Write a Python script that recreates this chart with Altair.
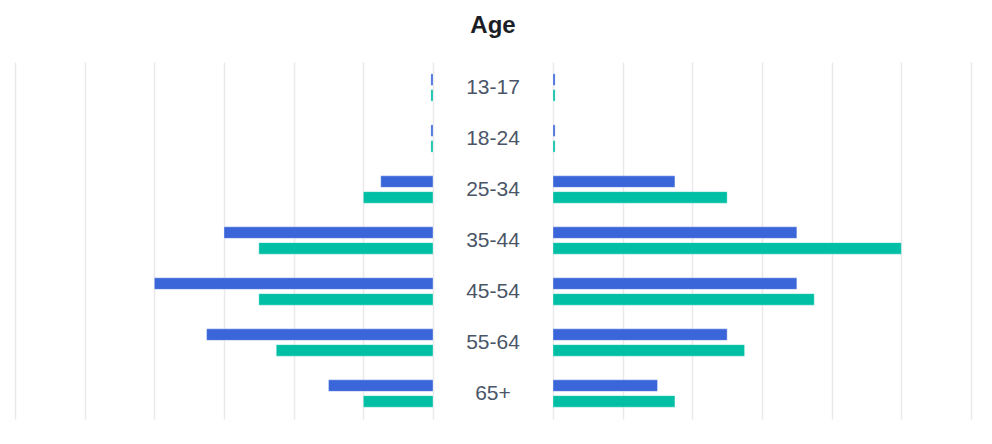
import altair as alt
import pandas as pd

ages = ["13-17", "18-24", "25-34", "35-44", "45-54", "55-64", "65+"]
series = ["Blue", "Green"]
left_blue = [0.12, 0.12, 3, 12, 16, 13, 6]
left_green = [0.12, 0.12, 4, 10, 10, 9, 4]
right_blue = [0.12, 0.12, 7, 14, 14, 10, 6]
right_green = [0.12, 0.12, 10, 20, 15, 11, 7]
grid_vals = [0, 4, 8, 12, 16, 20, 24]

BLUE = "#3b66d9"
GREEN = "#00bfa5"


def frame(blue, green):
    rows = []
    for a, b, g in zip(ages, blue, green):
        rows.append({"age": a, "series": "Blue", "value": b})
        rows.append({"age": a, "series": "Green", "value": g})
    return pd.DataFrame(rows)


yscale = alt.Scale(paddingInner=0.465, paddingOuter=0.2325)


def panel(df, reverse):
    return alt.Chart(df).mark_bar(stroke="white", strokeOpacity=0.35, strokeWidth=1).encode(
        x=alt.X("value:Q",
                scale=alt.Scale(domain=[0, 24], reverse=reverse, nice=False, zero=True),
                axis=alt.Axis(values=grid_vals, grid=True, labels=False, ticks=False,
                              domain=False, title=None, gridColor="#e9e9ec", gridWidth=1.5)),
        y=alt.Y("age:N", sort=ages, scale=yscale, axis=None),
        yOffset=alt.YOffset("series:N", sort=series, scale=alt.Scale(paddingInner=0.27)),
        color=alt.Color("series:N", scale=alt.Scale(domain=series, range=[BLUE, GREEN]), legend=None),
    ).properties(width=418, height=357)


left = panel(frame(left_blue, left_green), True)
right = panel(frame(right_blue, right_green), False)

center = alt.Chart(pd.DataFrame({"age": ages})).mark_text(
    fontSize=21, color="#4a5568", font="Liberation Sans", baseline="middle", align="center"
).encode(
    y=alt.Y("age:N", sort=ages, scale=yscale, axis=None),
    x=alt.value(59),
    text="age:N",
).properties(width=118, height=357)

chart = alt.hconcat(left, center, right, spacing=0).properties(
    title=alt.TitleParams("Age", fontSize=24, fontWeight="bold", color="#1c1e26",
                          anchor="middle", offset=24, font="Liberation Sans"),
    padding={"left": 7, "top": 6, "right": 5, "bottom": 5},
).configure_view(stroke=None)

chart.save("out.html", embed_options={"renderer": "svg", "actions": False})
